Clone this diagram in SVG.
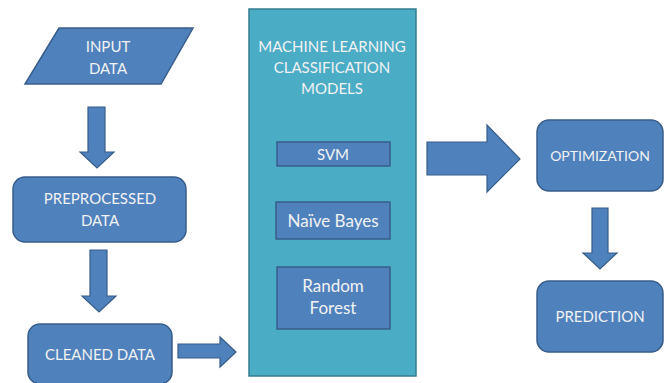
<svg xmlns="http://www.w3.org/2000/svg" width="669" height="383" viewBox="0 0 669 383">
<style>
.b{fill:#4F81BD;stroke:#385D8A;stroke-width:1.5}
.t{fill:#4BACC6;stroke:#357D91;stroke-width:1.5}
.a{fill:#4F81BD;stroke:#385D8A;stroke-width:1.2;stroke-linejoin:miter}
text{font-family:Lato,"Open Sans","Liberation Sans",sans-serif;fill:#F2F2F2;text-anchor:middle}
.l{font-size:15px}
.s{font-size:14px}
.m{font-size:17px}
</style>
<rect width="669" height="383" fill="#FFFFFF"/>
<g id="input">
<polygon class="b" points="59,28 193,28 161,84 25,84"/>
<text class="l" x="108" y="52">INPUT</text>
<text class="l" x="108" y="74">DATA</text>
</g>
<g id="preprocessed">
<rect class="b" x="13" y="177" width="173" height="65" rx="12"/>
<text class="l" x="100" y="204">PREPROCESSED</text>
<text class="l" x="100" y="226">DATA</text>
</g>
<g id="cleaned">
<rect class="b" x="28" y="324" width="144" height="60" rx="12"/>
<text class="l" x="100" y="360">CLEANED DATA</text>
</g>
<g id="models">
<rect class="t" x="249" y="9" width="167" height="367"/>
<text class="l" x="332" y="52">MACHINE LEARNING</text>
<text class="l" x="332" y="73">CLASSIFICATION</text>
<text class="l" x="332" y="94">MODELS</text>
</g>
<g id="svm">
<rect class="b" x="277" y="142" width="113" height="24"/>
<text class="l" x="333" y="160">SVM</text>
</g>
<g id="naive-bayes">
<rect class="b" x="276" y="202" width="114" height="37"/>
<text class="m" x="333" y="227">Naïve Bayes</text>
</g>
<g id="random-forest">
<rect class="b" x="277" y="267" width="113" height="62"/>
<text class="m" x="333" y="292">Random</text>
<text class="m" x="333" y="314">Forest</text>
</g>
<g id="optimization">
<rect class="b" x="537" y="120" width="126" height="71" rx="12"/>
<text class="s" x="600" y="161">OPTIMIZATION</text>
</g>
<g id="prediction">
<rect class="b" x="537" y="281" width="126" height="71" rx="12"/>
<text class="l" x="600" y="322">PREDICTION</text>
</g>
<g id="connectors">
<polygon class="a" points="88,107 105,107 105,152 114,152 97,168 80,152 88,152"/>
<polygon class="a" points="90,250 107,250 107,296 116,296 99,312 82,296 90,296"/>
<polygon class="a" points="178,344 220,344 220,337 236,352 220,367 220,358 178,358"/>
<polygon class="a" points="427,142 487,142 487,125 520,159 487,192 487,175 427,175"/>
<polygon class="a" points="592,208 608,208 608,253 617,253 600,269 583,253 592,253"/>
</g>
</svg>
